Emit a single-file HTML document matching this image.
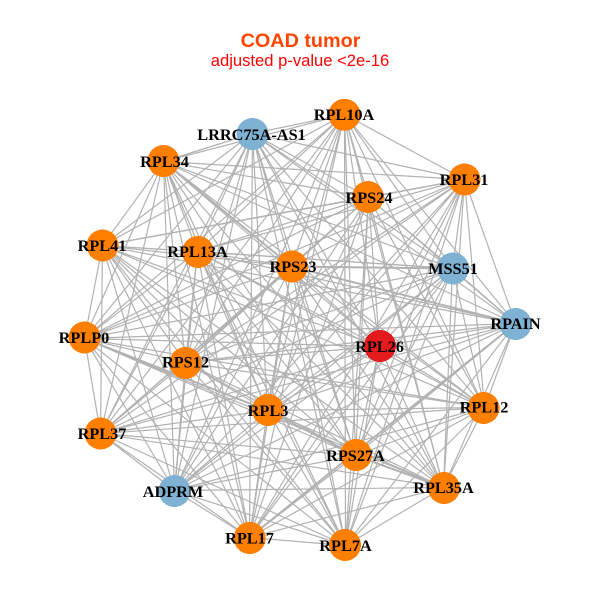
<!DOCTYPE html>
<html><head><meta charset="utf-8"><style>html,body{margin:0;padding:0;background:#fff}svg{display:block}</style></head><body>
<svg width="600" height="600" viewBox="0 0 600 600" xmlns="http://www.w3.org/2000/svg">
<rect width="600" height="600" fill="#fff"/>
<g fill="none" stroke="#b2b2b2" stroke-width="1.2" transform="translate(.5 .5)">
<path d="M344 114L252 133 344 114 163 161 344 114 368 197 344 114 464 179 344 114 102 245 344 114 197 251 344 114 291 266 344 114 452 268 344 114 515 323 344 114 84 338 344 114 379 346 344 114 185 362 344 114 267 410 344 114 484 407 344 114 100 433 344 114 355 455 344 114 443 487 344 114 174 490 344 114 249 537 344 114 345 545"/>
<path d="M252 133L163 161 252 133 368 197 252 133 464 179 252 133 102 245 252 133 197 251 252 133 291 266 252 133 452 268 252 133 515 323 252 133 84 338 252 133 379 346 252 133 185 362 252 133 267 410 252 133 484 407 252 133 100 433 252 133 355 455 252 133 443 487 252 133 174 490 252 133 249 537 252 133 345 545"/>
<path d="M163 161L368 197 163 161 464 179 163 161 102 245 163 161 197 251 163 161 291 266 163 161 452 268 163 161 515 323 163 161 84 338 163 161 379 346 163 161 185 362 163 161 267 410 163 161 484 407 163 161 100 433 163 161 355 455 163 161 443 487 163 161 174 490 163 161 249 537 163 161 345 545"/>
<path d="M368 197L464 179 368 197 102 245 368 197 197 251 368 197 291 266 368 197 452 268 368 197 515 323 368 197 84 338 368 197 379 346 368 197 185 362 368 197 267 410 368 197 484 407 368 197 100 433 368 197 355 455 368 197 443 487 368 197 174 490 368 197 249 537 368 197 345 545"/>
<path d="M464 179L102 245 464 179 197 251 464 179 291 266 464 179 452 268 464 179 515 323 464 179 84 338 464 179 379 346 464 179 185 362 464 179 267 410 464 179 484 407 464 179 100 433 464 179 355 455 464 179 443 487 464 179 174 490 464 179 249 537 464 179 345 545"/>
<path d="M102 245L197 251 102 245 291 266 102 245 452 268 102 245 515 323 102 245 84 338 102 245 379 346 102 245 185 362 102 245 267 410 102 245 484 407 102 245 100 433 102 245 355 455 102 245 443 487 102 245 174 490 102 245 249 537 102 245 345 545"/>
<path d="M197 251L291 266 197 251 452 268 197 251 515 323 197 251 84 338 197 251 379 346 197 251 185 362 197 251 267 410 197 251 484 407 197 251 100 433 197 251 355 455 197 251 443 487 197 251 174 490 197 251 249 537 197 251 345 545"/>
<path d="M291 266L452 268 291 266 515 323 291 266 84 338 291 266 379 346 291 266 185 362 291 266 267 410 291 266 484 407 291 266 100 433 291 266 355 455 291 266 443 487 291 266 174 490 291 266 249 537 291 266 345 545"/>
<path d="M452 268L515 323 452 268 84 338 452 268 379 346 452 268 185 362 452 268 267 410 452 268 484 407 452 268 100 433 452 268 355 455 452 268 443 487 452 268 174 490 452 268 249 537 452 268 345 545"/>
<path d="M515 323L84 338 515 323 379 346 515 323 185 362 515 323 267 410 515 323 484 407 515 323 100 433 515 323 355 455 515 323 443 487 515 323 174 490 515 323 249 537 515 323 345 545"/>
<path d="M84 338L379 346 84 338 185 362 84 338 267 410 84 338 484 407 84 338 100 433 84 338 355 455 84 338 443 487 84 338 174 490 84 338 249 537 84 338 345 545"/>
<path d="M379 346L185 362 379 346 267 410 379 346 484 407 379 346 100 433 379 346 355 455 379 346 443 487 379 346 174 490 379 346 249 537 379 346 345 545"/>
<path d="M185 362L267 410 185 362 484 407 185 362 100 433 185 362 355 455 185 362 443 487 185 362 174 490 185 362 249 537 185 362 345 545"/>
<path d="M267 410L484 407 267 410 100 433 267 410 355 455 267 410 443 487 267 410 174 490 267 410 249 537 267 410 345 545"/>
<path d="M484 407L100 433 484 407 355 455 484 407 443 487 484 407 174 490 484 407 249 537 484 407 345 545"/>
<path d="M100 433L355 455 100 433 443 487 100 433 174 490 100 433 249 537 100 433 345 545"/>
<path d="M355 455L443 487 355 455 174 490 355 455 249 537 355 455 345 545"/>
<path d="M443 487L174 490 443 487 249 537 443 487 345 545"/>
<path d="M174 490L249 537 174 490 345 545"/>
<path d="M249 537L345 545"/>
</g>
<g fill="none" stroke="#b2b2b2" stroke-width="2" transform="translate(.5 .5)">
<path d="M291 266L185 362M267 410L355 455M355 455L443 487M84 338L267 410M452 268L291 266M515 323L291 266M515 323L249 537M163 161L291 266"/>
</g>
<g shape-rendering="crispEdges">
<circle cx="344.5" cy="114.8" r="16" fill="#FF7F00"/>
<circle cx="252.5" cy="134" r="16" fill="#7FB1D3"/>
<circle cx="163.5" cy="161" r="16" fill="#FF7F00"/>
<circle cx="368" cy="197" r="16" fill="#FF7F00"/>
<circle cx="464.5" cy="179.5" r="16" fill="#FF7F00"/>
<circle cx="102.5" cy="245.5" r="16" fill="#FF7F00"/>
<circle cx="198" cy="252" r="16" fill="#FF7F00"/>
<circle cx="292" cy="266.5" r="16" fill="#FF7F00"/>
<circle cx="453" cy="268.5" r="16" fill="#7FB1D3"/>
<circle cx="515.5" cy="324" r="16" fill="#7FB1D3"/>
<circle cx="84.5" cy="337.5" r="16" fill="#FF7F00"/>
<circle cx="380" cy="346" r="16" fill="#E41A1C"/>
<circle cx="185.5" cy="363" r="16" fill="#FF7F00"/>
<circle cx="268" cy="410" r="16" fill="#FF7F00"/>
<circle cx="483.5" cy="408" r="16" fill="#FF7F00"/>
<circle cx="100.5" cy="433.5" r="16" fill="#FF7F00"/>
<circle cx="356" cy="455" r="16" fill="#FF7F00"/>
<circle cx="444" cy="488" r="16" fill="#FF7F00"/>
<circle cx="174.5" cy="491" r="16" fill="#7FB1D3"/>
<circle cx="249.7" cy="538" r="16" fill="#FF7F00"/>
<circle cx="345" cy="545" r="16" fill="#FF7F00"/>
</g>
<g font-family="'Liberation Serif',serif" font-weight="bold" font-size="16.3" fill="#000" text-anchor="middle">
<text x="344" y="120">RPL10A</text>
<text x="251.5" y="140">LRRC75A-AS1</text>
<text x="164.5" y="167">RPL34</text>
<text x="369" y="203">RPS24</text>
<text x="464" y="185">RPL31</text>
<text x="102" y="251">RPL41</text>
<text x="197.5" y="257">RPL13A</text>
<text x="293" y="272">RPS23</text>
<text x="453" y="274">MSS51</text>
<text x="515.5" y="329">RPAIN</text>
<text x="84" y="343">RPLP0</text>
<text x="379.5" y="352">RPL26</text>
<text x="185.5" y="367.5">RPS12</text>
<text x="268" y="416">RPL3</text>
<text x="484" y="412.5">RPL12</text>
<text x="102" y="439">RPL37</text>
<text x="355.5" y="461">RPS27A</text>
<text x="443.5" y="493">RPL35A</text>
<text x="173" y="497">ADPRM</text>
<text x="249.5" y="543.5">RPL17</text>
<text x="345.5" y="551">RPL7A</text>
</g>
<text x="300.5" y="47" font-family="'Liberation Sans',sans-serif" font-weight="bold" font-size="19.8" fill="#FF4500" text-anchor="middle">COAD tumor</text>
<text x="300" y="66" font-family="'Liberation Sans',sans-serif" font-size="16.6" fill="#FF0000" text-anchor="middle">adjusted p-value &lt;2e-16</text>
</svg>
</body></html>
